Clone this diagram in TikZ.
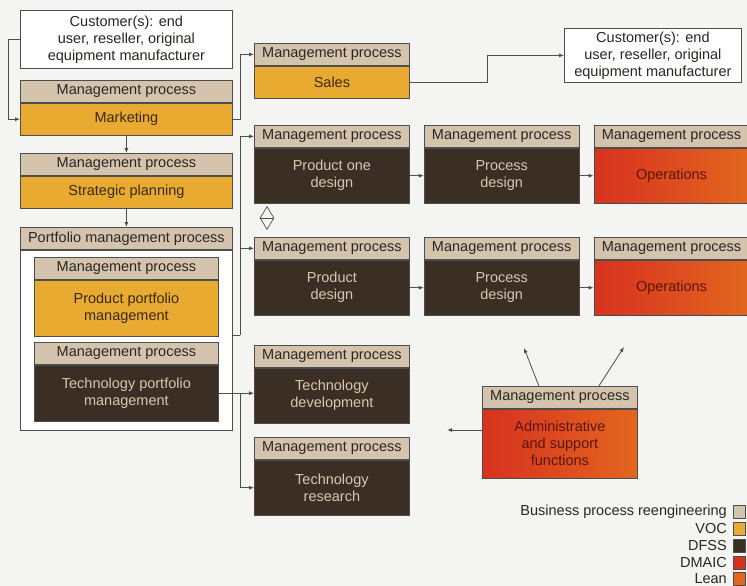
\documentclass[tikz,border=0pt]{standalone}
\usepackage{fontspec}
\setmainfont{Liberation Sans}
\usetikzlibrary{arrows.meta,positioning,shapes.geometric}
\definecolor{bprtan}{HTML}{D4C4AE}
\definecolor{vocgold}{HTML}{E8AA30}
\definecolor{dfssbrown}{HTML}{3B2E24}
\definecolor{dmaicred}{HTML}{D8311F}
\definecolor{leanorange}{HTML}{E2661F}
\definecolor{linegray}{HTML}{4D4D4D}
\definecolor{hdrtext}{HTML}{2B2622}
\definecolor{voctext}{HTML}{3A2A12}
\definecolor{dfsstext}{HTML}{D9C8AE}
\definecolor{opstext}{HTML}{5A160C}
\definecolor{pagebg}{HTML}{F4F4F2}
\newcommand\mpfont{\fontsize{14.5}{17}\selectfont}
\tikzset{
  pbox/.style   ={draw=linegray, line width=0.8pt, inner sep=0pt, align=center,
                  minimum width=155pt, font=\mpfont},
  hdr/.style    ={pbox, fill=bprtan, text=hdrtext, minimum height=22pt},
  voc/.style    ={pbox, fill=vocgold, text=voctext},
  dfss/.style   ={pbox, fill=dfssbrown, text=dfsstext},
  dmaic/.style  ={pbox, left color=dmaicred, right color=leanorange, text=opstext},
  custbox/.style={pbox, fill=white, text=hdrtext},
  lgtxt/.style  ={font=\mpfont, text=hdrtext, anchor=east, inner sep=0pt},
  ar/.style     ={-{Latex[length=5pt,width=4pt]}, draw=linegray, line width=0.8pt},
}

\begin{document}
\begin{tikzpicture}[x=1pt, y=-1pt]
\fill[pagebg] (0,0) rectangle (747,586);
\useasboundingbox (0,0) rectangle (747,586);

% left column
\node[custbox, anchor=north west, minimum width=212pt, minimum height=58pt] (cust) at (20,10)
  {Customer(s): end\\user, reseller, original\\equipment manufacturer};
\node[hdr, anchor=north west, minimum width=212pt] (mkth) at (20,80) {Management process};
\node[voc, below=0pt of mkth, minimum width=212pt, minimum height=32pt] (mkt) {Marketing};
\node[hdr, anchor=north west, minimum width=212pt] (sph) at (20,153) {Management process};
\node[voc, below=0pt of sph, minimum width=212pt, minimum height=32pt] (sp) {Strategic planning};
\node[hdr, anchor=north west, minimum width=212pt] (porth) at (20,227) {Portfolio management process};
\node[pbox, fill=white, below=0pt of porth, minimum width=212pt, minimum height=180pt] (port) {};
\node[hdr, anchor=north west, minimum width=184pt] (ppmh) at (34,257) {Management process};
\node[voc, below=0pt of ppmh, minimum width=184pt, minimum height=56pt] (ppm) {Product portfolio\\management};
\node[hdr, anchor=north west, minimum width=184pt] (tpmh) at (34,342) {Management process};
\node[dfss, below=0pt of tpmh, minimum width=184pt, minimum height=56pt] (tpm) {Technology portfolio\\management};

% sales and customer
\node[hdr, anchor=north west] (salesh) at (254,43) {Management process};
\node[voc, below=0pt of salesh, minimum height=32pt] (sales) {Sales};
\node[custbox, anchor=north west, minimum width=177pt, minimum height=54pt] (cust2) at (564,28)
  {Customer(s): end\\user, reseller, original\\equipment manufacturer};

% design rows
\node[hdr, anchor=north west] (podh) at (254,125) {Management process};
\node[dfss, below=0pt of podh, minimum height=55pt] (pod) {Product one\\design};
\node[hdr, right=14pt of podh] (prdah) {Management process};
\node[dfss, below=0pt of prdah, minimum height=55pt] (prda) {Process\\design};
\node[hdr, right=14pt of prdah] (opsah) {Management process};
\node[dmaic, below=0pt of opsah, minimum height=55pt] (opsa) {Operations};

\node[hdr, anchor=north west] (pdh) at (254,237) {Management process};
\node[dfss, below=0pt of pdh, minimum height=55pt] (pd) {Product\\design};
\node[hdr, right=14pt of pdh] (prdbh) {Management process};
\node[dfss, below=0pt of prdbh, minimum height=55pt] (prdb) {Process\\design};
\node[hdr, right=14pt of prdbh] (opsbh) {Management process};
\node[dmaic, below=0pt of opsbh, minimum height=55pt] (opsb) {Operations};

\node[diamond, draw=linegray, line width=0.7pt, inner sep=0pt,
      minimum width=14pt, minimum height=23pt] (swap) at (267,218) {};
\draw[linegray, line width=0.7pt] (swap.west) -- (swap.east);

% technology
\node[hdr, anchor=north west] (tdevh) at (254,345) {Management process};
\node[dfss, below=0pt of tdevh, minimum height=55pt] (tdev) {Technology\\development};
\node[hdr, anchor=north west] (tresh) at (254,437) {Management process};
\node[dfss, below=0pt of tresh, minimum height=55pt] (tres) {Technology\\research};

% administrative
\node[hdr, anchor=north west] (admh) at (482,386) {Management process};
\node[dmaic, below=0pt of admh, minimum height=69pt] (adm) {Administrative\\and support\\functions};

% connectors
\coordinate (jd) at (240,335);
\coordinate (admout) at (447,430);
\coordinate (admup1) at (524,348);
\coordinate (admup2) at (624,347);
\draw[ar] (cust.west) -- ++(-12,0) |- (mkt.west);
\draw[ar] (mkt.east) -- ++(8,0) |- (salesh.west);
\draw[ar] (sales.east) -- ++(78,0) |- (cust2.west);
\draw[ar] (mkt.south) -- (sph.north);
\draw[ar] (sp.south) -- (porth.north);
\draw[linegray, line width=0.8pt] (port.east |- jd) -- (jd);
\draw[ar] (jd) |- (podh.west);
\draw[ar] (jd) |- (pdh.west);
\draw[ar] (pod.east) -- (prda.west);
\draw[ar] (prda.east) -- (opsa.west);
\draw[ar] (pd.east) -- (prdb.west);
\draw[ar] (prdb.east) -- (opsb.west);
\draw[ar] (tpm.east) -- (tpm.east -| tdev.west);
\draw[ar] (tpm.east -| jd) |- (tres.west);
\draw[ar] (adm.west |- admout) -- (admout);
\draw[ar] ([xshift=-21pt]admh.north) -- (admup1);
\draw[ar] ([xshift=39pt]admh.north) -- (admup2);

% legend
\foreach \col/\txt/\yy in {bprtan/Business process reengineering/512, vocgold/VOC/529,
    dfssbrown/DFSS/546, dmaicred/DMAIC/563, leanorange/Lean/579}
  \node[lgtxt] at (727,\yy) {\txt};
\foreach \col/\yy in {bprtan/512, vocgold/529, dfssbrown/546, dmaicred/563, leanorange/579}
  \draw[linegray, line width=0.6pt, fill=\col] (733,\yy-7) rectangle (745,\yy+6);
\end{tikzpicture}
\end{document}
